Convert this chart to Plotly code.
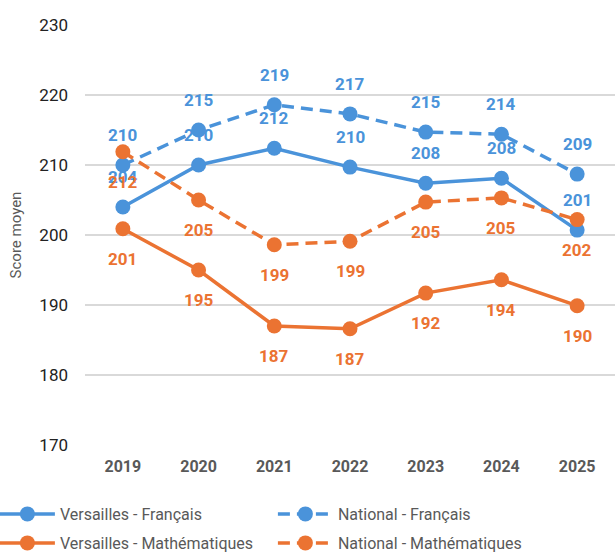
import plotly.graph_objects as go

years = [2019, 2020, 2021, 2022, 2023, 2024, 2025]
versailles_fr = [204.0, 210.0, 212.4, 209.7, 207.4, 208.1, 200.7]
national_fr = [210.0, 215.0, 218.6, 217.3, 214.7, 214.4, 208.7]
versailles_math = [200.9, 195.0, 187.0, 186.6, 191.7, 193.6, 189.9]
national_math = [211.9, 205.0, 198.6, 199.1, 204.7, 205.3, 202.2]
labels_vf = ["204", "210", "212", "210", "208", "208", "201"]
labels_nf = ["210", "215", "219", "217", "215", "214", "209"]
labels_vm = ["201", "195", "187", "187", "192", "194", "190"]
labels_nm = ["212", "205", "199", "199", "205", "205", "202"]

BLUE = "#4A93DA"
ORANGE = "#EB7332"

series = [
    ("Versailles - Français", versailles_fr, labels_vf, BLUE, "solid", 30, "legend"),
    ("National - Français", national_fr, labels_nf, BLUE, "12px,7px", 30, "legend"),
    ("Versailles - Mathématiques", versailles_math, labels_vm, ORANGE, "solid", -30, "legend2"),
    ("National - Mathématiques", national_math, labels_nm, ORANGE, "12px,7px", -30, "legend2"),
]

fig = go.Figure()
annotations = []
for name, vals, labs, color, dash, shift, leg in series:
    fig.add_trace(go.Scatter(
        x=years, y=vals, name=name, mode="lines+markers", legend=leg,
        line=dict(color=color, width=3.5, dash=dash),
        marker=dict(color=color, size=15),
    ))
    for xv, yv, t in zip(years, vals, labs):
        annotations.append(dict(
            x=xv, y=yv, xref="x", yref="y", text=t, showarrow=False, yshift=shift,
            font=dict(family="Roboto", size=17, color=color, weight="bold"),
        ))

legend_common = dict(
    orientation="h", x=-0.17, xanchor="left", yanchor="middle",
    entrywidth=208, entrywidthmode="pixels", itemwidth=55,
    font=dict(family="Roboto", size=16, color="#595959"),
    bgcolor="rgba(0,0,0,0)",
)

fig.update_layout(
    width=615, height=552,
    margin=dict(l=85, r=0, t=25, b=107, autoexpand=False),
    paper_bgcolor="white", plot_bgcolor="white",
    font=dict(family="Roboto"),
    annotations=annotations,
    xaxis=dict(
        range=[min(years) - 0.5, max(years) + 0.5], tickvals=years,
        showgrid=False, zeroline=False, showline=False,
        tickfont=dict(family="Roboto", size=16, color="#595959", weight="bold"),
        ticklabelstandoff=10,
    ),
    yaxis=dict(
        range=[170, 230], dtick=10, showgrid=True, gridcolor="#D9D9D9", gridwidth=1.5,
        zeroline=False, showline=False,
        tickfont=dict(family="Roboto", size=17, color="#222222"),
        ticklabelstandoff=16,
        title=dict(text="Score moyen", font=dict(family="Roboto", size=15, color="#595959"), standoff=14),
    ),
    legend=dict(legend_common, y=(445 - 514) / 420),
    legend2=dict(legend_common, y=(445 - 543) / 420),
    showlegend=True,
)

fig.write_html("out.html", config={"displayModeBar": False},
               post_script="document.body.style.margin='0';")
